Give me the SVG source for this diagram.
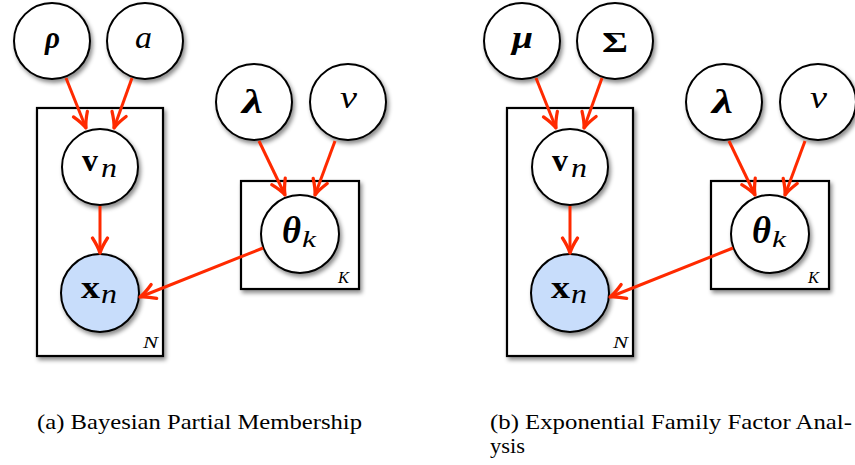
<svg xmlns="http://www.w3.org/2000/svg" width="855" height="465" viewBox="0 0 855 465">
<defs>
<filter id="sh" x="-30%" y="-30%" width="160%" height="160%">
<feDropShadow dx="2" dy="3" stdDeviation="2" flood-color="#000" flood-opacity="0.45"/>
</filter>
<marker id="ah" markerUnits="userSpaceOnUse" markerWidth="20" markerHeight="20" viewBox="-14 -8 16 16" refX="0" refY="0" orient="auto">
<path d="M -12 -6 Q -5 -1.5 0 0 Q -5 1.5 -12 6" fill="none" stroke="#ff2a00" stroke-width="2.6" stroke-linecap="round" stroke-linejoin="round"/>
</marker>
</defs>
<style>
.plate{fill:#fff;stroke:#000;stroke-width:2.2;filter:url(#sh)}
.node{fill:#fff;stroke:#000;stroke-width:2;filter:url(#sh)}
.obs{fill:#c8ddfb}
.edge{stroke:#ff2a00;stroke-width:3;fill:none;marker-end:url(#ah)}
text{font-family:"Liberation Serif","DejaVu Serif",serif;fill:#000}
.bi{font-weight:bold;font-style:italic}
.b{font-weight:bold}
.i{font-style:italic}
.cap{font-size:21px}
</style>

<!-- Panel (a) -->
<g id="a-plateN"><rect class="plate" x="37" y="108" width="126" height="248"/><text class="i" x="143" y="348" font-size="17" textLength="15" lengthAdjust="spacingAndGlyphs">N</text></g>
<g id="a-plateK"><rect class="plate" x="241" y="181" width="118" height="108"/><text class="i" x="338" y="283" font-size="17" textLength="11" lengthAdjust="spacingAndGlyphs">K</text></g>
<g id="a-rho"><circle class="node" cx="52" cy="41" r="38"/><text class="bi" x="45" y="48" font-size="31" textLength="15" lengthAdjust="spacingAndGlyphs">ρ</text></g>
<g id="a-a"><circle class="node" cx="145" cy="41" r="38"/><text class="i" x="135" y="48" font-size="32" textLength="17" lengthAdjust="spacingAndGlyphs">a</text></g>
<g id="a-vn"><circle class="node" cx="100" cy="167" r="38"/><text class="b" x="82" y="171" font-size="32" textLength="16" lengthAdjust="spacingAndGlyphs">v</text><text class="i" x="101" y="177" font-size="28" textLength="16" lengthAdjust="spacingAndGlyphs">n</text></g>
<g id="a-xn"><circle class="node obs" cx="100" cy="293" r="39"/><text class="b" x="81" y="298" font-size="32" textLength="19" lengthAdjust="spacingAndGlyphs">x</text><text class="i" x="101" y="303" font-size="28" textLength="16" lengthAdjust="spacingAndGlyphs">n</text></g>
<g id="a-lambda"><circle class="node" cx="254" cy="102" r="38"/><text class="bi" x="242" y="113" font-size="34" textLength="21" lengthAdjust="spacingAndGlyphs">λ</text></g>
<g id="a-nu"><circle class="node" cx="348" cy="102" r="38"/><text class="i" x="340" y="108" font-size="32" textLength="17" lengthAdjust="spacingAndGlyphs">ν</text></g>
<g id="a-theta"><circle class="node" cx="300" cy="234" r="39"/><text class="bi" x="282" y="243" font-size="37" textLength="19" lengthAdjust="spacingAndGlyphs">θ</text><text class="i" x="302" y="247" font-size="24" textLength="14" lengthAdjust="spacingAndGlyphs">k</text></g>

<!-- Panel (b) -->
<g id="b-plateN"><rect class="plate" x="507" y="108" width="126" height="248"/><text class="i" x="613" y="348" font-size="17" textLength="15" lengthAdjust="spacingAndGlyphs">N</text></g>
<g id="b-plateK"><rect class="plate" x="711" y="181" width="118" height="108"/><text class="i" x="808" y="283" font-size="17" textLength="11" lengthAdjust="spacingAndGlyphs">K</text></g>
<g id="b-mu"><circle class="node" cx="522" cy="41" r="38"/><text class="bi" x="512" y="48" font-size="31" textLength="21" lengthAdjust="spacingAndGlyphs">μ</text></g>
<g id="b-sigma"><circle class="node" cx="615" cy="41" r="38"/><text class="b" x="602" y="52" font-size="29" textLength="26" lengthAdjust="spacingAndGlyphs">Σ</text></g>
<g id="b-vn"><circle class="node" cx="570" cy="167" r="38"/><text class="b" x="552" y="171" font-size="32" textLength="16" lengthAdjust="spacingAndGlyphs">v</text><text class="i" x="571" y="177" font-size="28" textLength="16" lengthAdjust="spacingAndGlyphs">n</text></g>
<g id="b-xn"><circle class="node obs" cx="570" cy="293" r="39"/><text class="b" x="551" y="298" font-size="32" textLength="19" lengthAdjust="spacingAndGlyphs">x</text><text class="i" x="571" y="303" font-size="28" textLength="16" lengthAdjust="spacingAndGlyphs">n</text></g>
<g id="b-lambda"><circle class="node" cx="724" cy="102" r="38"/><text class="bi" x="712" y="113" font-size="34" textLength="21" lengthAdjust="spacingAndGlyphs">λ</text></g>
<g id="b-nu"><circle class="node" cx="818" cy="102" r="38"/><text class="i" x="810" y="108" font-size="32" textLength="17" lengthAdjust="spacingAndGlyphs">ν</text></g>
<g id="b-theta"><circle class="node" cx="770" cy="234" r="39"/><text class="bi" x="752" y="243" font-size="37" textLength="19" lengthAdjust="spacingAndGlyphs">θ</text><text class="i" x="772" y="247" font-size="24" textLength="14" lengthAdjust="spacingAndGlyphs">k</text></g>

<g id="connectors">
<line class="edge" x1="66" y1="78" x2="86" y2="128"/>
<line class="edge" x1="132" y1="78" x2="114" y2="128"/>
<line class="edge" x1="100" y1="206" x2="100" y2="253"/>
<line class="edge" x1="263" y1="248" x2="140" y2="297"/>
<line class="edge" x1="259" y1="141" x2="285" y2="195"/>
<line class="edge" x1="335" y1="141" x2="315" y2="195"/>
<line class="edge" x1="536" y1="78" x2="556" y2="128"/>
<line class="edge" x1="602" y1="78" x2="584" y2="128"/>
<line class="edge" x1="570" y1="206" x2="570" y2="253"/>
<line class="edge" x1="733" y1="248" x2="610" y2="297"/>
<line class="edge" x1="729" y1="141" x2="755" y2="195"/>
<line class="edge" x1="805" y1="141" x2="785" y2="195"/>
</g>

<g id="captions">
<text class="cap" x="37" y="429" textLength="325" lengthAdjust="spacingAndGlyphs">(a) Bayesian Partial Membership</text>
<text class="cap" x="490" y="429" textLength="362" lengthAdjust="spacingAndGlyphs">(b) Exponential Family Factor Anal-</text>
<text class="cap" x="490" y="453" textLength="35" lengthAdjust="spacingAndGlyphs">ysis</text>
</g>
</svg>
